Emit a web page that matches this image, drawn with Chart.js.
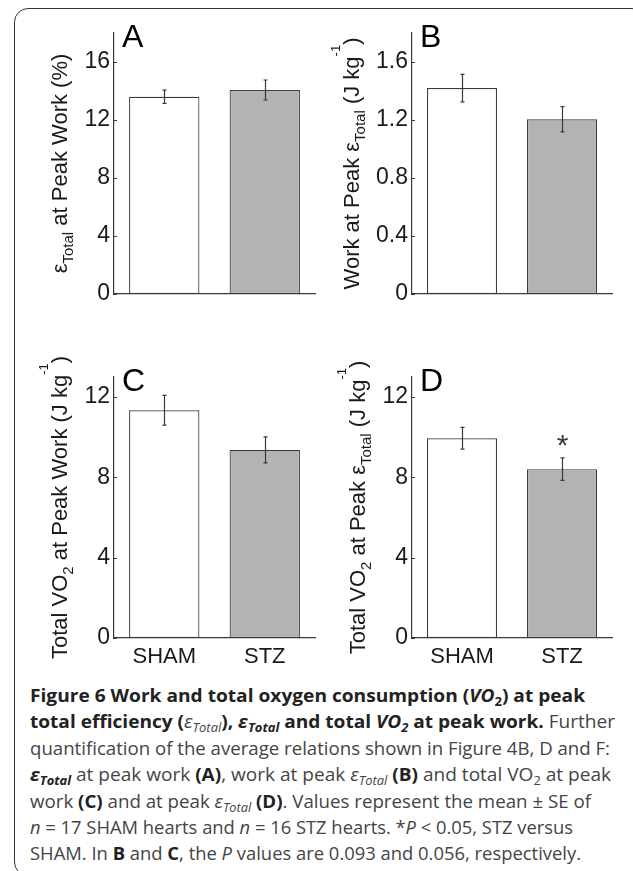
<!DOCTYPE html>
<html>
<head>
<meta charset="utf-8">
<script src="https://cdn.jsdelivr.net/npm/chart.js@4.4.0/dist/chart.umd.min.js"></script>
<style>
html, body { margin: 0; padding: 0; background: #fff; width: 633px; height: 871px; overflow: hidden; }
#frame { position: absolute; left: 14px; top: 8px; width: 632px; height: 868px; border: 1.5px solid #333; border-radius: 14px; box-sizing: border-box; }
canvas { position: absolute; }
.cap { position: absolute; left: 30px; white-space: nowrap; font-family: "Open Sans", sans-serif; font-size: 18.5px; line-height: 26px; color: #444; transform-origin: 0 0; }
.cap b { color: #222; font-weight: 700; }
.cap sub { font-size: 0.68em; vertical-align: -0.28em; line-height: 0; }
</style>
</head>
<body>
<div id="frame"></div>
<canvas id="chartA" width="320" height="320" style="left:0;top:0"></canvas>
<canvas id="chartB" width="333" height="320" style="left:300px;top:0"></canvas>
<canvas id="chartC" width="320" height="360" style="left:0;top:320px"></canvas>
<canvas id="chartD" width="333" height="360" style="left:300px;top:320px"></canvas>

<div class="cap" style="top:682px" data-w="555"><b>Figure 6 Work and total oxygen consumption (<i>VO</i><sub>2</sub>) at peak</b></div>
<div class="cap" style="top:708px" data-w="585"><b>total efficiency (</b><i>ε<sub>Total</sub></i><b>), <i>ε<sub>Total</sub></i> and total <i>VO<sub>2</sub></i> at peak work.</b> Further</div>
<div class="cap" style="top:735px" data-w="580">quantification of the average relations shown in Figure 4B, D and F:</div>
<div class="cap" style="top:761px" data-w="581"><b><i>ε<sub>Total</sub></i></b> at peak work <b>(A)</b>, work at peak <i>ε<sub>Total</sub></i> <b>(B)</b> and total VO<sub>2</sub> at peak</div>
<div class="cap" style="top:788px" data-w="561">work <b>(C)</b> and at peak <i>ε<sub>Total</sub></i> <b>(D)</b>. Values represent the mean ± SE of</div>
<div class="cap" style="top:814px" data-w="543"><i>n</i> = 17 SHAM hearts and <i>n</i> = 16 STZ hearts. *<i>P</i> &lt; 0.05, STZ versus</div>
<div class="cap" style="top:840px" data-w="551">SHAM. In <b>B</b> and <b>C</b>, the <i>P</i> values are 0.093 and 0.056, respectively.</div>

<script>
// groups on the x axis
const groups = ['SHAM', 'STZ'];

// A: eps_total at peak work (%)
const effAtPeakWork = [13.6, 14.07];
const effAtPeakWorkSE = [0.46, 0.69];
// B: work at peak eps_total (J/kg)
const workAtPeakEff = [1.42, 1.205];
const workAtPeakEffSE = [0.095, 0.087];
// C: total VO2 at peak work (J/kg)
const vo2AtPeakWork = [11.34, 9.37];
const vo2AtPeakWorkSE = [0.74, 0.65];
// D: total VO2 at peak eps_total (J/kg)
const vo2AtPeakEff = [9.95, 8.41];
const vo2AtPeakEffSE = [0.54, 0.56];
const starsD = ['', '*'];

// y ticks
const ticksA = [0, 4, 8, 12, 16];
const tickLabelsA = ['0', '4', '8', '12', '16'];
const ticksB = [0, 0.4, 0.8, 1.2, 1.6];
const tickLabelsB = ['0', '0.4', '0.8', '1.2', '1.6'];
const ticksCD = [0, 4, 8, 12];
const tickLabelsCD = ['0', '4', '8', '12'];
const maxA = 18, maxB = 1.8, maxCD = 13;

// axis titles: [text, 0 normal | 1 subscript | 2 superscript]
const titleA = [['ε', 0], ['Total', 1], [' at Peak Work (%)', 0]];
const titleB = [['Work at Peak ε', 0], ['Total', 1], [' (J kg', 0], ['-1', 2], [')', 0]];
const titleC = [['Total VO', 0], ['2', 1], [' at Peak Work (J kg', 0], ['-1', 2], [')', 0]];
const titleD = [['Total VO', 0], ['2', 1], [' at Peak ε', 0], ['Total', 1], [' (J kg', 0], ['-1', 2], [')', 0]];

const FONT = 'Liberation Sans';
const INK = '#1a1a1a';
const LINE = '#3a3a3a';

Chart.defaults.font.family = FONT;
Chart.defaults.color = INK;

// error bars, inner ticks, panel letter, significance marks and rich y title
const panelDecor = {
  id: 'panelDecor',
  afterDatasetsDraw(chart, args, o) {
    const ctx = chart.ctx, area = chart.chartArea;
    const x = chart.scales.x, y = chart.scales.y;
    ctx.save();
    ctx.strokeStyle = LINE;
    ctx.lineWidth = 1.2;

    // matlab style ticks pointing inward
    ctx.beginPath();
    y.ticks.forEach(function(t) {
      const py = Math.round(y.getPixelForValue(t.value)) + 0.5;
      ctx.moveTo(area.left, py); ctx.lineTo(area.left + 3, py);
    });
    ctx.stroke();

    o.means.forEach(function(m, i) {
      const px = Math.round(x.getPixelForValue(i)) + 0.5;
      const top = y.getPixelForValue(m + o.errs[i]);
      const bot = y.getPixelForValue(m - o.errs[i]);
      ctx.beginPath();
      ctx.moveTo(px, top); ctx.lineTo(px, bot);
      ctx.moveTo(px - 2, top); ctx.lineTo(px + 2, top);
      ctx.moveTo(px - 2, bot); ctx.lineTo(px + 2, bot);
      ctx.stroke();
      if (o.marks && o.marks[i]) {
        ctx.fillStyle = LINE;
        ctx.font = '30px ' + FONT;
        ctx.textAlign = 'center';
        ctx.textBaseline = 'alphabetic';
        ctx.fillText(o.marks[i], px, top - 20 + 17);
      }
    });

    // panel letter
    ctx.fillStyle = '#000';
    ctx.font = '32px ' + FONT;
    ctx.textAlign = 'left';
    ctx.textBaseline = 'alphabetic';
    ctx.fillText(o.letter, area.left + 8, area.top + 14);

    // y title
    ctx.font = '23px ' + FONT;
    let labW = 0;
    o.tickLabels.forEach(function(t) { labW = Math.max(labW, ctx.measureText(t).width); });
    const bx = area.left - 4 - labW - 17;
    const cy = (area.top + area.bottom) / 2;
    const fonts = ['22px ' + FONT, '15px ' + FONT, '13px ' + FONT];
    const shift = [0, 6, -19];
    let total = 0;
    o.title.forEach(function(s) { ctx.font = fonts[s[1]]; total += ctx.measureText(s[0]).width; });
    ctx.translate(bx, cy);
    ctx.rotate(-Math.PI / 2);
    ctx.fillStyle = INK;
    let pos = -total / 2;
    o.title.forEach(function(s) {
      ctx.font = fonts[s[1]];
      ctx.fillText(s[0], pos, shift[s[1]]);
      pos += ctx.measureText(s[0]).width;
    });
    ctx.restore();
  }
};

function makePanel(id, means, errs, ticks, tickLabels, max, title, letter, marks, showX, pad, yW, xH) {
  return new Chart(document.getElementById(id), {
    type: 'bar',
    data: {
      labels: groups,
      datasets: [{
        data: means,
        backgroundColor: ['#ffffff', '#b3b3b3'],
        borderColor: LINE,
        borderWidth: 1.2,
        borderSkipped: false,
        barPercentage: 0.7,
        categoryPercentage: 1.0
      }]
    },
    options: {
      responsive: false,
      animation: false,
      devicePixelRatio: 1,
      layout: { padding: pad },
      plugins: {
        legend: { display: false },
        tooltip: { enabled: false },
        panelDecor: { means: means, errs: errs, letter: letter, marks: marks, title: title, tickLabels: tickLabels }
      },
      scales: {
        x: {
          offset: true,
          grid: { display: false, drawTicks: false },
          border: { display: true, color: LINE, width: 1.2 },
          ticks: { display: showX, font: { size: 22 }, color: INK, padding: 6 },
          afterFit: function(s) { s.height = xH; }
        },
        y: {
          min: 0,
          max: max,
          grid: { display: false, drawTicks: false },
          border: { display: true, color: LINE, width: 1.2 },
          ticks: {
            font: { size: 23 },
            color: INK,
            padding: 4,
            callback: function(v) { return tickLabels[ticks.indexOf(v)]; }
          },
          afterBuildTicks: function(s) { s.ticks = ticks.map(function(v) { return { value: v }; }); },
          afterFit: function(s) { s.width = yW; }
        }
      }
    },
    plugins: [panelDecor]
  });
}

makePanel('chartA', effAtPeakWork, effAtPeakWorkSE, ticksA, tickLabelsA, maxA, titleA, 'A', null, false,
  { top: 33, right: 5, bottom: 0, left: 0 }, 114, 26);
makePanel('chartB', workAtPeakEff, workAtPeakEffSE, ticksB, tickLabelsB, maxB, titleB, 'B', null, false,
  { top: 33, right: 21, bottom: 0, left: 0 }, 112, 26);
makePanel('chartC', vo2AtPeakWork, vo2AtPeakWorkSE, ticksCD, tickLabelsCD, maxCD, titleC, 'C', null, true,
  { top: 57, right: 5, bottom: 0, left: 0 }, 114, 42);
makePanel('chartD', vo2AtPeakEff, vo2AtPeakEffSE, ticksCD, tickLabelsCD, maxCD, titleD, 'D', starsD, true,
  { top: 57, right: 21, bottom: 0, left: 0 }, 112, 42);

// squeeze caption lines to the widths of the printed figure
document.querySelectorAll('.cap').forEach(function(el) {
  const w = el.getBoundingClientRect().width;
  el.style.transform = 'scaleX(' + (Number(el.dataset.w) / w) + ')';
});
</script>
</body>
</html>
